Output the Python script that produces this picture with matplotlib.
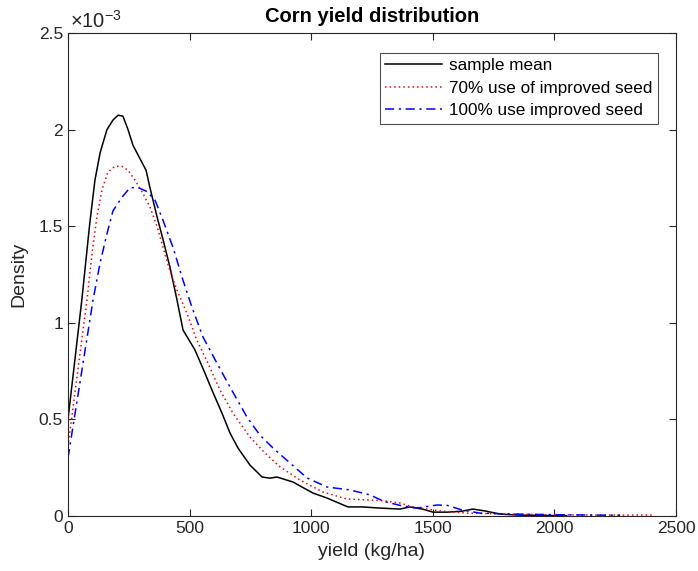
import matplotlib
matplotlib.use('Agg')
import matplotlib.pyplot as plt
from matplotlib.ticker import FormatStrFormatter

plt.rcParams['font.family'] = ['Liberation Sans', 'DejaVu Sans']
plt.rcParams['mathtext.fontset'] = 'custom'
plt.rcParams['mathtext.rm'] = 'Liberation Sans'
plt.rcParams['mathtext.it'] = 'Liberation Sans'

# density values are in units of 1e-3
mean_x = [0, 57, 90, 111, 132, 160, 185, 206, 226, 247, 267, 296, 321, 337, 366,
          391, 419, 448, 473, 522, 563, 592, 633, 666, 699, 748, 798, 830, 859,
          925, 1007, 1065, 1151, 1213, 1283, 1365, 1406, 1460, 1501, 1560, 1620,
          1665, 1720, 1776, 1850, 1950, 2050]
mean_y = [0.50, 1.12, 1.52, 1.74, 1.88, 2.00, 2.05, 2.075, 2.07, 2.00, 1.92, 1.85,
          1.79, 1.70, 1.55, 1.43, 1.29, 1.12, 0.963, 0.86, 0.74, 0.652, 0.533,
          0.43, 0.352, 0.264, 0.202, 0.196, 0.202, 0.176, 0.119, 0.093, 0.047,
          0.047, 0.041, 0.036, 0.047, 0.035, 0.02, 0.02, 0.025, 0.036, 0.025,
          0.01, 0.005, 0.003, 0.002]

seed70_x = [0, 78, 99, 119, 140, 164, 193, 222, 247, 275, 308, 337, 366, 391, 419,
            448, 489, 530, 576, 625, 678, 748, 810, 872, 954, 1049, 1147, 1242,
            1300, 1365, 1419, 1530, 1641, 1750, 1830, 2000, 2200, 2405]
seed70_y = [0.36, 1.118, 1.36, 1.55, 1.69, 1.78, 1.81, 1.81, 1.79, 1.74, 1.67,
            1.60, 1.50, 1.39, 1.27, 1.17, 1.05, 0.91, 0.79, 0.652, 0.533, 0.409,
            0.326, 0.254, 0.186, 0.124, 0.088, 0.083, 0.078, 0.067, 0.047, 0.026,
            0.015, 0.012, 0.01, 0.006, 0.005, 0.005]

seed100_x = [0, 103, 132, 160, 185, 222, 255, 288, 325, 358, 391, 432, 473, 510,
             555, 613, 666, 736, 789, 843, 913, 983, 1065, 1160, 1242, 1300, 1365,
             1435, 1517, 1560, 1620, 1694, 1830, 2000, 2150, 2270]
seed100_y = [0.30, 1.118, 1.31, 1.46, 1.58, 1.65, 1.70, 1.70, 1.68, 1.635, 1.53,
             1.39, 1.22, 1.08, 0.927, 0.79, 0.668, 0.512, 0.419, 0.352, 0.274,
             0.197, 0.15, 0.135, 0.109, 0.075, 0.055, 0.041, 0.057, 0.055, 0.031,
             0.015, 0.01, 0.007, 0.005, 0.004]

labels = ['sample mean', '70% use of improved seed', '100% use improved seed']

fig = plt.figure(figsize=(6.98, 5.71), dpi=100)
ax = fig.add_axes([0.0974, 0.0963, 0.8711, 0.8457])

ax.plot(mean_x, mean_y, color='black', lw=1.1, ls='-', label=labels[0])
ax.plot(seed70_x, seed70_y, color='red', lw=1.1, ls=(0, (1, 2)), label=labels[1])
ax.plot(seed100_x, seed100_y, color='blue', lw=1.1, ls=(0, (6, 3, 1.5, 3)), label=labels[2])

ax.set_xlim(0, 2500)
ax.set_ylim(0, 2.5)
ax.set_xticks([0, 500, 1000, 1500, 2000, 2500])
ax.set_yticks([0, 0.5, 1, 1.5, 2, 2.5])
ax.yaxis.set_major_formatter(FormatStrFormatter('%g'))
ax.tick_params(direction='in', top=True, right=True, length=5, width=0.8,
               labelsize=12.5, colors='#262626')
for s in ax.spines.values():
    s.set_color('#262626')
    s.set_linewidth(0.8)

ax.text(0.003, 1.003, r'$\times10^{-3}$', transform=ax.transAxes,
        ha='left', va='bottom', fontsize=14.5, color='#262626')

ax.set_xlabel('yield (kg/ha)', fontsize=14, color='#262626', labelpad=5)
ax.set_ylabel('Density', fontsize=14, color='#262626', labelpad=8)
ax.set_title('Corn yield distribution', fontsize=14.5, fontweight='bold', pad=8)

leg = ax.legend(loc='upper right', bbox_to_anchor=(0.970, 0.959), borderaxespad=0,
                fontsize=12.3, frameon=True, fancybox=False, handlelength=3.3,
                labelspacing=0.45, handletextpad=0.45, borderpad=0.3)
leg.get_frame().set_edgecolor('#262626')
leg.get_frame().set_linewidth(0.8)

fig.savefig('out.png', dpi=100)
